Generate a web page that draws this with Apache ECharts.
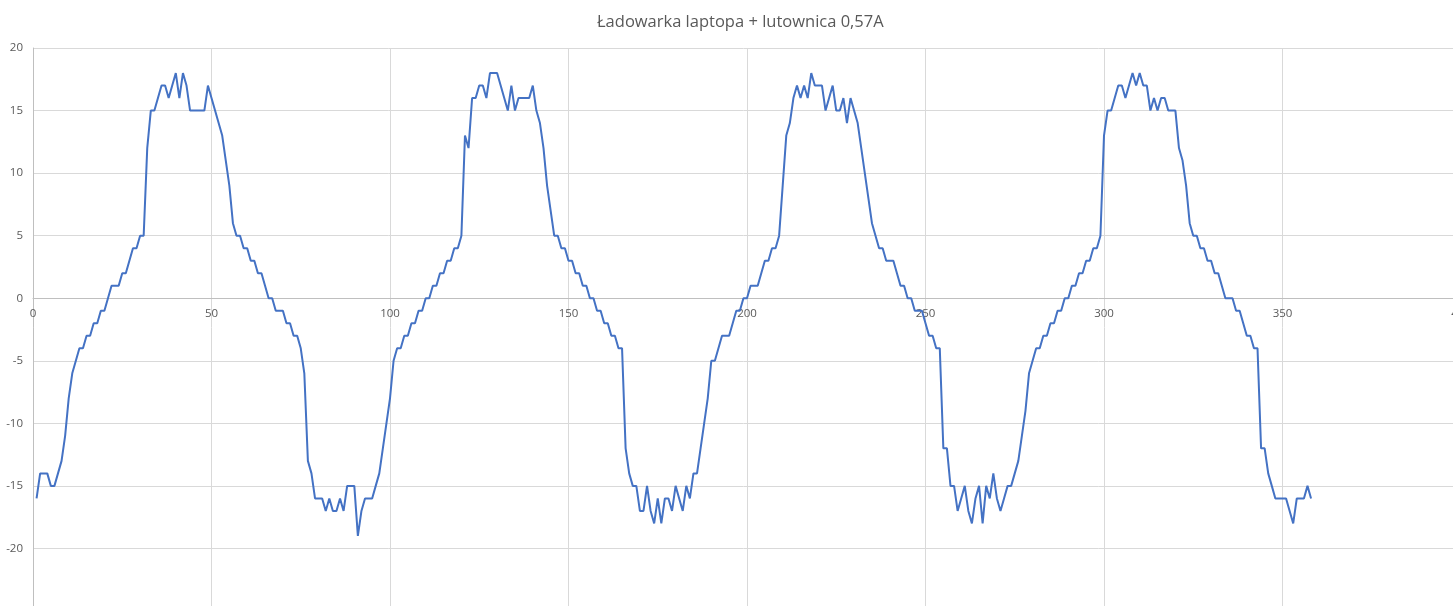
<!DOCTYPE html>
<html>
<head>
<meta charset="utf-8">
<script src="https://cdn.jsdelivr.net/npm/echarts@6/dist/echarts.min.js"></script>
<style>
  html, body { margin: 0; padding: 0; background: #fff; }
  #chart { width: 1453px; height: 606px; }
</style>
</head>
<body>
<div id="chart"></div>
<script>
const title = 'Ładowarka laptopa + lutownica 0,57A'

// odczyty prądu, próbki 1..358
const current = [
  -16, -14, -14, -14, -15, -15, -14, -13, -11, -8,
  -6, -5, -4, -4, -3, -3, -2, -2, -1, -1,
  0, 1, 1, 1, 2, 2, 3, 4, 4, 5,
  5, 12, 15, 15, 16, 17, 17, 16, 17, 18,
  16, 18, 17, 15, 15, 15, 15, 15, 17, 16,
  15, 14, 13, 11, 9, 6, 5, 5, 4, 4,
  3, 3, 2, 2, 1, 0, 0, -1, -1, -1,
  -2, -2, -3, -3, -4, -6, -13, -14, -16, -16,
  -16, -17, -16, -17, -17, -16, -17, -15, -15, -15,
  -19, -17, -16, -16, -16, -15, -14, -12, -10, -8,
  -5, -4, -4, -3, -3, -2, -2, -1, -1, 0,
  0, 1, 1, 2, 2, 3, 3, 4, 4, 5,
  13, 12, 16, 16, 17, 17, 16, 18, 18, 18,
  17, 16, 15, 17, 15, 16, 16, 16, 16, 17,
  15, 14, 12, 9, 7, 5, 5, 4, 4, 3,
  3, 2, 2, 1, 1, 0, 0, -1, -1, -2,
  -2, -3, -3, -4, -4, -12, -14, -15, -15, -17,
  -17, -15, -17, -18, -16, -18, -16, -16, -17, -15,
  -16, -17, -15, -16, -14, -14, -12, -10, -8, -5,
  -5, -4, -3, -3, -3, -2, -1, -1, 0, 0,
  1, 1, 1, 2, 3, 3, 4, 4, 5, 9,
  13, 14, 16, 17, 16, 17, 16, 18, 17, 17,
  17, 15, 16, 17, 15, 15, 16, 14, 16, 15,
  14, 12, 10, 8, 6, 5, 4, 4, 3, 3,
  3, 2, 1, 1, 0, 0, -1, -1, -1, -2,
  -3, -3, -4, -4, -12, -12, -15, -15, -17, -16,
  -15, -17, -18, -16, -15, -18, -15, -16, -14, -16,
  -17, -16, -15, -15, -14, -13, -11, -9, -6, -5,
  -4, -4, -3, -3, -2, -2, -1, -1, 0, 0,
  1, 1, 2, 2, 3, 3, 4, 4, 5, 13,
  15, 15, 16, 17, 17, 16, 17, 18, 17, 18,
  17, 17, 15, 16, 15, 16, 16, 15, 15, 15,
  12, 11, 9, 6, 5, 5, 4, 4, 3, 3,
  2, 2, 1, 0, 0, 0, -1, -1, -2, -3,
  -3, -4, -4, -12, -12, -14, -15, -16, -16, -16,
  -16, -17, -18, -16, -16, -16, -15, -16
]

const xRange = [0, 400, 50]
const yRange = [-25, 20, 5]

const points = current.map((v, i) => [i + 1, v])

// obszar wykresu wychodzi poza okno (jak w Excelu)
const gridTop = 48
const gridBottom = -5
const gridHeight = 606 - gridTop - gridBottom
// przesunięcie osi X na poziom zera, razem z etykietami
const zeroOffset = gridHeight * (0 - yRange[0]) / (yRange[1] - yRange[0])

const chart = echarts.init(document.getElementById('chart'))

chart.setOption({
  animation: false,
  title: {
    text: title,
    left: 592,
    top: 9,
    textStyle: {
      fontFamily: 'Open Sans',
      fontSize: 16.5,
      fontWeight: 'normal',
      color: '#595959'
    }
  },
  grid: {
    left: 33,
    right: -8,
    top: gridTop,
    bottom: gridBottom,
    outerBoundsMode: 'none'
  },
  xAxis: {
    type: 'value',
    min: xRange[0],
    max: xRange[1],
    interval: xRange[2],
    offset: -zeroOffset,
    axisLine: { onZero: false, lineStyle: { color: '#bfbfbf', width: 1 } },
    axisTick: { show: false },
    axisLabel: { color: '#595959', fontSize: 11.5, margin: 9, fontFamily: 'Open Sans' },
    splitLine: { show: true, lineStyle: { color: '#d9d9d9', width: 1 } }
  },
  yAxis: {
    type: 'value',
    min: yRange[0],
    max: yRange[1],
    interval: yRange[2],
    axisLine: { show: true, onZero: false, lineStyle: { color: '#bfbfbf', width: 1 } },
    axisTick: { show: false },
    axisLabel: { color: '#595959', fontSize: 11.5, margin: 10, fontFamily: 'Open Sans' },
    splitLine: { show: true, lineStyle: { color: '#d9d9d9', width: 1 } }
  },
  series: [
    {
      type: 'line',
      data: points,
      showSymbol: false,
      symbol: 'none',
      lineStyle: { color: '#4472C4', width: 2 },
      itemStyle: { color: '#4472C4' }
    }
  ]
})
</script>
</body>
</html>
